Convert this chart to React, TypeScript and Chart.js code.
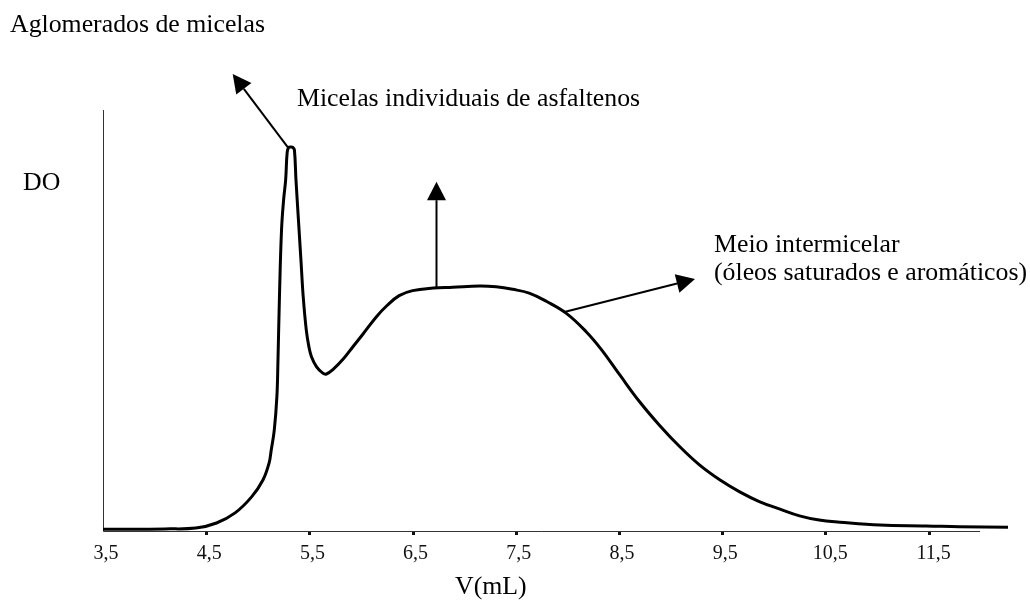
import React, { useEffect, useRef } from "react";
import { Chart, registerables } from "chart.js";

Chart.register(...registerables);

// Elution volume (mL)
const V_ML: number[] = [
  3.5, 3.8, 4.1, 4.4, 4.6, 4.78, 4.94, 5.05, 5.11, 5.13, 5.16, 5.185, 5.195, 5.21, 5.23, 5.25, 5.27,
  5.285, 5.3, 5.32, 5.34, 5.355, 5.37, 5.4, 5.42, 5.44, 5.47, 5.495, 5.52, 5.57, 5.63, 5.665, 5.73,
  5.83, 5.92, 6.02, 6.15, 6.25, 6.37, 6.5, 6.7, 6.89, 7.15, 7.31, 7.47, 7.63, 7.8, 7.99, 8.18, 8.33,
  8.51, 8.7, 8.89, 9.09, 9.28, 9.48, 9.67, 9.86, 10.06, 10.25, 10.44, 10.64, 11.03, 11.48, 11.8, 12.27,
];

// Optical density (relative units)
const DO_VALUES: number[] = [
  0.4, 0.4, 0.5, 0.7, 1.9, 4.3, 8.1, 12.1, 16.2, 19.2, 24.0, 31.9, 39.9, 55.7, 71.5, 78.6, 83.4,
  90.0, 91.1, 91.2, 91.1, 90.5, 83.4, 71.5, 63.6, 55.7, 47.7, 43.8, 41.4, 39.0, 37.5, 37.3, 38.4,
  40.9, 43.7, 46.8, 50.9, 53.5, 55.9, 57.1, 57.7, 57.9, 58.2, 58.0, 57.4, 56.5, 54.5, 51.7, 47.4, 43.1,
  37.0, 30.7, 25.2, 20.0, 15.7, 12.1, 9.3, 7.0, 5.2, 3.6, 2.6, 2.1, 1.4, 1.2, 1.0, 0.9,
];

const TICK_VALUES: number[] = [3.5, 4.5, 5.5, 6.5, 7.5, 8.5, 9.5, 10.5, 11.5];
const TICK_LABELS: string[] = ["3,5", "4,5", "5,5", "6,5", "7,5", "8,5", "9,5", "10,5", "11,5"];

const X_TITLE = "V(mL)";
const Y_TITLE = "DO";
const NOTE_AGLOMERADOS = "Aglomerados de micelas";
const NOTE_MICELAS = "Micelas individuais de asfaltenos";
const NOTE_MEIO_1 = "Meio intermicelar";
const NOTE_MEIO_2 = "(óleos saturados e aromáticos)";

const SERIF = '"Liberation Serif", "Times New Roman", serif';

function arrow(ctx: CanvasRenderingContext2D, x0: number, y0: number, x1: number, y1: number, headLen: number, headW: number) {
  const ang = Math.atan2(y1 - y0, x1 - x0);
  const bx = x1 - Math.cos(ang) * headLen;
  const by = y1 - Math.sin(ang) * headLen;
  ctx.save();
  ctx.strokeStyle = "#000";
  ctx.fillStyle = "#000";
  ctx.lineWidth = 2;
  ctx.beginPath();
  ctx.moveTo(x0, y0);
  ctx.lineTo(bx, by);
  ctx.stroke();
  const px = -Math.sin(ang) * headW / 2;
  const py = Math.cos(ang) * headW / 2;
  ctx.beginPath();
  ctx.moveTo(x1, y1);
  ctx.lineTo(bx + px, by + py);
  ctx.lineTo(bx - px, by - py);
  ctx.closePath();
  ctx.fill();
  ctx.restore();
}

const decorPlugin = {
  id: "decor",
  beforeDatasetsDraw(chart: any) {
    const ctx: CanvasRenderingContext2D = chart.ctx;
    const xs = chart.scales.x;
    const ys = chart.scales.y;
    const x0 = Math.round(xs.getPixelForValue(3.5)) + 0.5;
    const yb = Math.round(ys.getPixelForValue(0)) + 0.5;
    const yt = ys.getPixelForValue(100);
    const xe = xs.getPixelForValue(12.0);
    ctx.save();
    ctx.strokeStyle = "#333";
    ctx.lineWidth = 1;
    ctx.beginPath();
    ctx.moveTo(x0, yt);
    ctx.lineTo(x0, yb);
    ctx.lineTo(xe, yb);
    ctx.stroke();
    ctx.fillStyle = "#111";
    TICK_VALUES.forEach((v, i) => {
      const px = xs.getPixelForValue(v);
      if (i > 0) ctx.fillRect(Math.round(px) - 1, Math.round(yb), 3, 3);
    });
    ctx.font = `20px ${SERIF}`;
    ctx.textAlign = "center";
    ctx.textBaseline = "alphabetic";
    TICK_VALUES.forEach((v, i) => {
      const px = xs.getPixelForValue(v);
      const lbl = TICK_LABELS[i];
      ctx.fillText(lbl, px + (lbl.length > 3 ? 5 : 3), 559);
    });
    ctx.restore();
  },
  afterDraw(chart: any) {
    const ctx: CanvasRenderingContext2D = chart.ctx;
    const xs = chart.scales.x;
    const ys = chart.scales.y;
    ctx.save();
    ctx.fillStyle = "#000";
    ctx.font = `25.8px ${SERIF}`;
    ctx.textAlign = "left";
    ctx.textBaseline = "alphabetic";
    ctx.fillText(NOTE_AGLOMERADOS, 10, 32);
    ctx.fillText(NOTE_MICELAS, 297, 106);
    ctx.fillText(Y_TITLE, 23, 190);
    ctx.fillText(NOTE_MEIO_1, 714, 252);
    ctx.fillText(NOTE_MEIO_2, 714, 280);
    ctx.fillText(X_TITLE, 455, 594);
    ctx.restore();

    // arrows anchored on the curve
    const peakX = xs.getPixelForValue(5.29);
    const peakY = ys.getPixelForValue(91.2);
    arrow(ctx, peakX, peakY, 232.7, 74, 18.5, 19);
    const platX = xs.getPixelForValue(6.73);
    const platY = ys.getPixelForValue(57.8);
    arrow(ctx, Math.round(platX) + 0.5, platY, Math.round(platX) + 0.5, 181.7, 18.5, 19);
    const descX = xs.getPixelForValue(7.97);
    const descY = ys.getPixelForValue(52.0);
    arrow(ctx, descX, descY, 695, 279, 18.5, 19);
  },
};

export default function App() {
  const ref = useRef<HTMLCanvasElement | null>(null);
  useEffect(() => {
    if (!ref.current) return;
    const chart = new Chart(ref.current, {
      type: "line",
      data: {
        datasets: [
          {
            data: V_ML.map((v, i) => ({ x: v, y: DO_VALUES[i] })),
            borderColor: "#000",
            borderWidth: 3,
            pointRadius: 0,
            tension: 0.4,
            fill: false,
            clip: false as any,
          },
        ],
      },
      options: {
        animation: false,
        responsive: false,
        maintainAspectRatio: false,
        layout: { padding: { left: 103, right: 22, top: 110, bottom: 70 } },
        plugins: { legend: { display: false }, tooltip: { enabled: false }, title: { display: false } },
        scales: {
          x: { type: "linear", min: 3.5, max: 12.27, display: false },
          y: { type: "linear", min: 0, max: 100, display: false },
        },
      },
      plugins: [decorPlugin],
    });
    return () => chart.destroy();
  }, []);
  return (
    <div style={{ position: "fixed", left: 0, top: 0, width: 1030, height: 601, background: "#fff" }}>
      <canvas ref={ref} width={1030} height={601} style={{ display: "block", width: 1030, height: 601 }} />
    </div>
  );
}
